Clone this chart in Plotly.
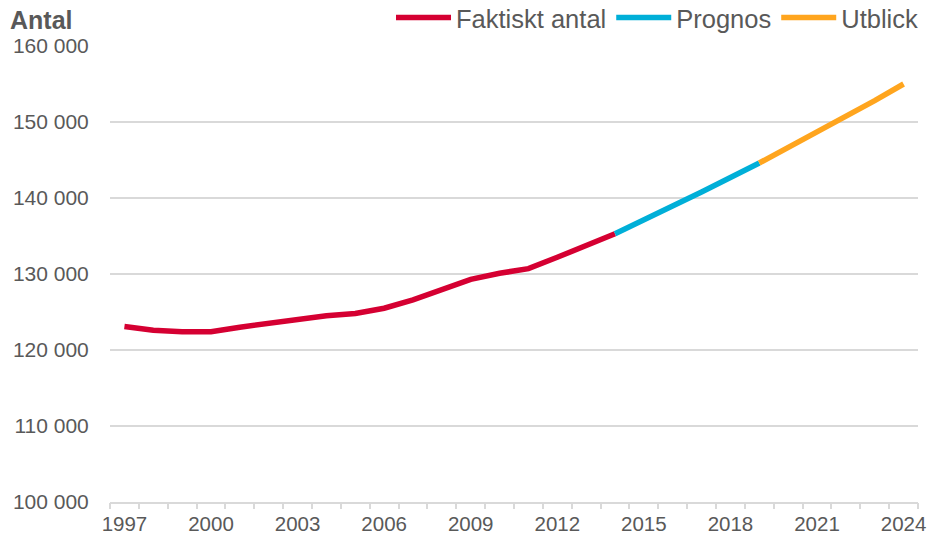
import plotly.graph_objects as go

years_actual = list(range(1997, 2015))
values_actual = [123100, 122600, 122400, 122400, 123000, 123500, 124100, 124500, 124800,
                 125500, 126600, 127900, 129300, 130100, 130700, 132200, 133700, 135300]
years_prognos = list(range(2014, 2020))
values_prognos = [135300, 137100, 138900, 140800, 142700, 144600]
years_utblick = list(range(2019, 2025))
values_utblick = [144600, 146600, 148600, 150700, 152800, 155000]

x_ticks = list(range(1997, 2025, 3))
y_ticks = [100000, 110000, 120000, 130000, 140000, 150000, 160000]
y_labels = ["100 000", "110 000", "120 000", "130 000", "140 000", "150 000", "160 000"]

FONT = "Liberation Sans, Arial, sans-serif"
GRAY = "#595959"
GRID = "#d9d9d9"

W, H = 928, 538

fig = go.Figure()
fig.add_trace(go.Scatter(x=years_actual, y=values_actual, mode="lines", name="Faktiskt antal",
                         line=dict(color="#d50032", width=5.5)))
fig.add_trace(go.Scatter(x=years_prognos, y=values_prognos, mode="lines", name="Prognos",
                         line=dict(color="#00afd8", width=5.5)))
fig.add_trace(go.Scatter(x=years_utblick, y=values_utblick, mode="lines", name="Utblick",
                         line=dict(color="#ffa51e", width=5.5)))
# helper trace for the category-boundary tick axis
fig.add_trace(go.Scatter(x=[1997], y=[None], xaxis="x2", showlegend=False, hoverinfo="skip"))

fig.update_layout(
    width=W, height=H,
    margin=dict(l=110, r=10, t=46, b=36),
    plot_bgcolor="white", paper_bgcolor="white",
    font=dict(family=FONT, color=GRAY, size=21),
    xaxis=dict(range=[1996.5, 2024.5], tickmode="array", tickvals=x_ticks,
               ticks="outside", ticklen=3, tickcolor="rgba(0,0,0,0)",
               showgrid=False, showline=True, linecolor=GRID, linewidth=1.5,
               tickfont=dict(size=20.5, color=GRAY), zeroline=False, automargin=False),
    xaxis2=dict(range=[1996.5, 2024.5], overlaying="x", anchor="y", side="bottom",
                tickmode="linear", tick0=1996.5, dtick=1, ticks="outside", ticklen=6,
                tickwidth=1.5, tickcolor=GRID, showticklabels=False, showgrid=False,
                showline=False, zeroline=False, automargin=False),
    yaxis=dict(range=[100000, 160000], tickmode="array", tickvals=y_ticks, ticktext=y_labels,
               showgrid=True, gridcolor=GRID, gridwidth=1.5, zeroline=False,
               ticks="outside", ticklen=16, tickcolor="rgba(0,0,0,0)",
               tickfont=dict(size=21, color=GRAY), automargin=False),
    legend=dict(orientation="h", xref="container", yref="container",
                x=923 / W, xanchor="right", y=1 - 18 / H, yanchor="middle",
                font=dict(size=25.5, color=GRAY), bgcolor="rgba(0,0,0,0)",
                itemwidth=55, tracegroupgap=0),
)
fig.add_annotation(text="<b>Antal</b>", xref="paper", yref="paper", x=-102 / 808,
                   y=1 + 26 / 456, xanchor="left", yanchor="middle", showarrow=False,
                   font=dict(size=25, color=GRAY, family=FONT))

# remove the browser's default 8px page margin so the figure fills the window
fig.write_html("out.html", config={"displayModeBar": False},
               post_script="document.body.style.margin='0';")
